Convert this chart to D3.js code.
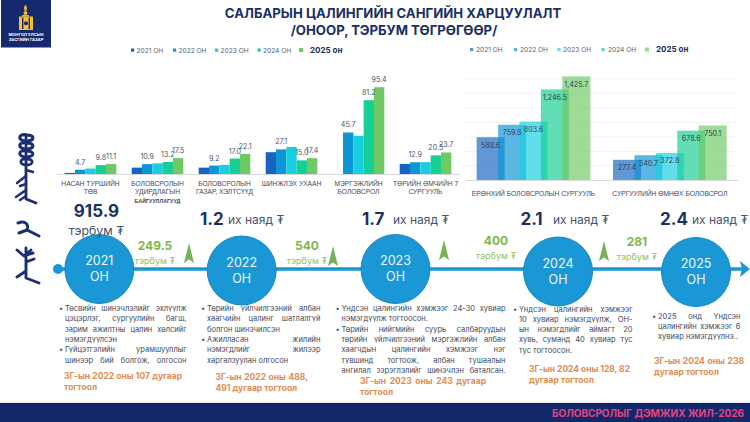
<!DOCTYPE html>
<html>
<head>
<meta charset="utf-8">
<script src="https://cdn.jsdelivr.net/npm/d3@7"></script>
<style>
  html, body { margin: 0; padding: 0; background: #fff; overflow: hidden; }
  svg { display: block; font-family: Inter, "Noto Sans", "DejaVu Sans", sans-serif; }
</style>
</head>
<body>
<script>
// Data
const years = ['2021', '2022', '2023', '2024', '2025'];
const smallCategories = ['НАСАН ТУРШИЙН\nТӨВ', 'БОЛОВСРОЛЫН\nУДИРДЛАГЫН\nБАЙГУУЛЛАГУУД', 'БОЛОВСРОЛЫН\nГАЗАР, ХЭЛТСҮҮД', 'ШИНЖЛЭХ УХААН', 'МЭРГЭЖЛИЙН\nБОЛОВСРОЛ', 'ТӨРИЙН ӨМЧИЙН 7\nСУРГУУЛЬ'];
const small2021 = [1.2, 7.0, 7.0, 24.0, 0, 11.0];
const small2022 = [4.7, 10.9, 9.2, 27.1, 45.7, 12.9];
const small2023 = [6.0, 11.7, 10.0, 29.8, 42.0, 13.0];
const small2024 = [9.8, 13.2, 17.0, 15.0, 81.2, 20.5];
const small2025 = [11.1, 17.5, 22.1, 17.4, 95.4, 23.7];
const smallSeries = [small2021, small2022, small2023, small2024, small2025];
const smallLabelled = ['2022', '2024', '2025'];

const bigCategories = ['ЕРӨНХИЙ БОЛОВСРОЛЫН СУРГУУЛЬ', 'СУРГУУЛИЙН ӨМНӨХ БОЛОВСРОЛ'];
const big2021 = [588.6, 277.4];
const big2022 = [759.8, 340.7];
const big2023 = [803.6, 372.8];
const big2024 = [1246.5, 678.6];
const big2025 = [1425.7, 750.1];
const bigSeries = [big2021, big2022, big2023, big2024, big2025];

const timelineYears = ['2021', '2022', '2023', '2024', '2025'];
const totalsValue = ['915.9', '1.2', '1.7', '2.1', '2.4'];
const totalsUnit = ['тэрбум ₮', 'их наяд ₮', 'их наяд ₮', 'их наяд ₮', 'их наяд ₮'];
const increases = ['249.5', '540', '400', '281'];

const notes2021 = [['• ', 'Төсвийн шинэчлэлийг эхлүүлж'], ['', 'цэцэрлэг, сургуулийн багш,'], ['', 'зарим ажилтны цалин хөлсийг'], ['', 'нэмэгдүүлсэн', 1], ['• ', 'Гүйцэтгэлийн урамшууллыг'], ['', 'шинээр бий болгож, олгосон']];
const notes2022 = [['• ', 'Төрийн үйлчилгээний албан'], ['', 'хаагчийн цалинг шатлалгүй'], ['', 'болгон шинэчилсэн', 1], ['• ', 'Ажилласан жилийн'], ['', 'нэмэгдлийг жилээр'], ['', 'харгалзуулан олгосон', 1]];
const notes2023 = [['• ', 'Үндсэн цалингийн хэмжээг 24-30 хувиар'], ['', 'нэмэгдүүлж тогтоосон.', 1], ['• ', 'Төрийн нийгмийн суурь салбаруудын'], ['', 'төрийн үйлчилгээний мэргэжлийн албан'], ['', 'хаагчдын цалингийн хэмжээг нэг'], ['', 'түвшинд тогтоож, албан тушаалын'], ['', 'ангилал зэрэглэлийг шинэчлэн баталсан.']];
const notes2024 = [['• ', 'Үндсэн цалингийн хэмжээг'], ['', '10 хувиар нэмэгдүүлж, ОН-'], ['', 'ын нэмэгдлийг аймагт 20'], ['', 'хувь, суманд 40 хувиар тус'], ['', 'тус тогтоосон.', 1]];
const notes2025 = [['• ', '2025 онд Үндсэн'], ['', 'цалингийн хэмжээг 6'], ['', 'хувиар нэмэгдүүлнэ..', 1]];
const decrees2021 = ['3Г-ын 2022 оны 107 дугаар', 'тогтоол'];
const decrees2022 = ['3Г-ын 2022 оны 488,', '491 дугаар тогтоол'];
const decrees2023 = ['3Г-ын 2023 оны 243 дугаар', 'тогтоол'];
const decrees2024 = ['3Г-ын 2024 оны 128, 82', 'дугаар тогтоол'];
const decrees2025 = ['3Г-ын 2024 оны 238', 'дугаар тогтоол'];

// Colours
const navy = '#1b2f63';
const textGrey = '#3d4b5c';
const green = '#7cb84a';
const orange = '#e08c4e';
const lineBlue = '#1a97d5';
const color = d3.scaleOrdinal(years, ['#1565c0', '#0d96d6', '#17cfe0', '#16cf94', '#6fca66']);

const svg = d3.select('body').append('svg').attr('width', 750).attr('height', 422);

// Title
svg.append('text').attr('x', 393).attr('y', 18).attr('text-anchor', 'middle')
  .style('font-size', '13.2px').style('font-weight', 700).style('fill', navy)
  .text('САЛБАРЫН ЦАЛИНГИЙН САНГИЙН ХАРЦУУЛАЛТ');
svg.append('text').attr('x', 394).attr('y', 35).attr('text-anchor', 'middle')
  .style('font-size', '13.2px').style('font-weight', 700).style('fill', navy)
  .text('/ОНООР, ТЭРБУМ ТӨГРӨГӨӨР/');

// Logo block
const logo = svg.append('g');
logo.append('rect').attr('x', 1).attr('width', 50).attr('height', 47.5).attr('fill', '#14296e');
logo.append('path').attr('d', 'M25.5,4.5 C28,8 27,10 25.5,11.5 C24,10 23,8 25.5,4.5Z').attr('fill', '#f0b323');
logo.append('circle').attr('cx', 25.5).attr('cy', 13).attr('r', 2).attr('fill', '#f0b323');
logo.append('rect').attr('x', 22).attr('y', 15).attr('width', 7).attr('height', 1.6).attr('fill', '#f0b323');
logo.append('rect').attr('x', 19).attr('y', 16.5).attr('width', 14).attr('height', 13.5).attr('fill', '#f5c22e');
logo.append('rect').attr('x', 22).attr('y', 17.5).attr('width', 1.4).attr('height', 11.5).attr('fill', '#14296e');
logo.append('rect').attr('x', 28.6).attr('y', 17.5).attr('width', 1.4).attr('height', 11.5).attr('fill', '#14296e');
logo.append('circle').attr('cx', 26).attr('cy', 23.2).attr('r', 2).attr('fill', '#14296e');
['МОНГОЛ УЛСЫН', 'ЗАСГИЙН ГАЗАР'].forEach((t, i) => {
  logo.append('text').attr('x', 26).attr('y', 35.5 + i * 5.2).attr('text-anchor', 'middle')
    .style('font-size', '4.1px').style('font-weight', 700).style('fill', '#fff').text(t);
});

// Legends
function drawLegend(squareX, textX, big, y) {
  years.forEach((yr, i) => {
    const last = i === years.length - 1;
    svg.append('rect').attr('x', squareX[i] - (last ? 2 : 1.5)).attr('y', y - (last ? 2 : 1.5))
      .attr('width', last ? 4 : 3.2).attr('height', last ? 4 : 3.2)
      .attr('fill', color(yr)).attr('opacity', big ? 0.7 : 1);
    svg.append('text').attr('x', textX[i]).attr('y', y + 2.5)
      .style('font-size', last ? '8px' : '6.6px')
      .style('font-weight', last ? 700 : 400)
      .style('fill', last ? navy : '#56626f')
      .text(last ? yr + ' он' : yr + ' ОН');
  });
}
drawLegend([132.5, 174.5, 216.5, 259, 301], [136.5, 178.5, 220.5, 263, 310], false, 50);
drawLegend([471.5, 515.5, 559, 603, 647], [476, 520, 563, 608, 656], true, 49.5);

// Left chart: small budget lines
const smallBase = 174;
const smallX0 = d3.scaleBand().domain(smallCategories).range([57, 459]).paddingInner(0.23).paddingOuter(0.115);
const smallX1 = d3.scaleBand().domain(years).range([0, smallX0.bandwidth()]);
const smallY = d3.scaleLinear().domain([0, 100]).range([smallBase, smallBase - 90.9]);

function wrapTicks(sel, lineGap) {
  sel.selectAll('.tick text').attr('dy', 0).each(function (d) {
    const t = d3.select(this);
    const parts = String(d).split('\n');
    t.text(null);
    parts.forEach((p, i) => {
      t.append('tspan').attr('x', 0).attr('y', 12 + i * lineGap)
        .style('font-size', i === 2 ? '5.4px' : null)
        .style('font-weight', i === 2 ? 700 : null)
        .text(p);
    });
  });
}

const smallAxis = svg.append('g').attr('transform', 'translate(0,' + smallBase + ')')
  .call(d3.axisBottom(smallX0).tickSize(0));
smallAxis.select('.domain').attr('stroke', '#d5d8db');
smallAxis.selectAll('text').style('font-size', '6.7px').style('fill', textGrey).style('font-family', 'inherit');
wrapTicks(smallAxis, 8.3);

years.forEach((yr, s) => {
  svg.append('g').selectAll('rect').data(smallSeries[s]).enter().append('rect')
    .attr('x', (d, i) => smallX0(smallCategories[i]) + smallX1(yr))
    .attr('y', d => smallY(d))
    .attr('width', smallX1.bandwidth())
    .attr('height', d => smallBase - smallY(d))
    .attr('fill', color(yr));
});
smallLabelled.forEach(yr => {
  const s = years.indexOf(yr);
  svg.append('g').selectAll('text').data(smallSeries[s]).enter().append('text')
    .attr('x', (d, i) => smallX0(smallCategories[i]) + smallX1(yr) + smallX1.bandwidth() / 2)
    .attr('y', d => smallY(d) - 5)
    .attr('text-anchor', 'middle')
    .style('font-size', '7.1px').style('fill', '#4a5663')
    .text(d => d.toFixed(1));
});

// Right chart: large budget lines, overlapping bars
const bigBase = 180;
const bigBarW = 28;
const bigX0 = d3.scaleBand().domain(bigCategories).range([465.3, 738]).paddingInner(0.1666).paddingOuter(0.0833);
const bigX1 = d3.scalePoint().domain(years).range([0, bigX0.bandwidth() - bigBarW]);
const bigY = d3.scaleLinear().domain([0, 1600]).range([bigBase, bigBase - 116.3]);

svg.append('g').attr('transform', 'translate(465,0)')
  .call(d3.axisLeft(bigY).tickValues(d3.range(200, 1600, 200)).tickSize(-273).tickFormat(''))
  .call(g => g.select('.domain').remove())
  .call(g => g.selectAll('line').attr('stroke', '#f2f3f4'));

const bigAxis = svg.append('g').attr('transform', 'translate(0,' + bigBase + ')')
  .call(d3.axisBottom(bigX0).tickSize(0));
bigAxis.select('.domain').attr('stroke', '#d5d8db').attr('stroke-width', 1.2);
bigAxis.selectAll('text').attr('y', 11.5).style('font-size', '6.7px').style('fill', textGrey).style('font-family', 'inherit');

years.forEach((yr, s) => {
  svg.append('g').selectAll('rect').data(bigSeries[s]).enter().append('rect')
    .attr('x', (d, i) => bigX0(bigCategories[i]) + bigX1(yr))
    .attr('y', d => bigY(d))
    .attr('width', bigBarW)
    .attr('height', d => bigBase - bigY(d))
    .attr('fill', color(yr))
    .attr('fill-opacity', 0.68);
});
years.forEach((yr, s) => {
  svg.append('g').selectAll('text').data(bigSeries[s]).enter().append('text')
    .attr('x', (d, i) => bigX0(bigCategories[i]) + bigX1(yr) + bigBarW / 2)
    .attr('y', d => bigY(d) + 10.5)
    .attr('text-anchor', 'middle')
    .style('font-size', '7.1px').style('fill', '#33414f')
    .text(d => d3.format(',.1f')(d));
});

// Timeline
const timelineX = d3.scaleOrdinal(timelineYears, [99.3, 241.7, 395.5, 558, 696]);
const timelineY = d3.scaleOrdinal(timelineYears, [269, 270.5, 269, 271.5, 272]);
const lineY = 269;
svg.append('line').attr('x1', 58).attr('x2', 742).attr('y1', lineY).attr('y2', lineY)
  .attr('stroke', lineBlue).attr('stroke-width', 3.4);
svg.append('circle').attr('cx', 58).attr('cy', lineY).attr('r', 5).attr('fill', lineBlue);
svg.append('path').attr('d', 'M740,261 L750,269 L740,277 L742,269Z').attr('fill', lineBlue);

const nodes = svg.append('g').selectAll('g').data(timelineYears).enter().append('g')
  .attr('transform', d => 'translate(' + timelineX(d) + ',' + timelineY(d) + ')');
nodes.append('circle').attr('r', 34.5).attr('fill', lineBlue).attr('stroke', '#1587c4');
nodes.append('text').attr('y', -4).attr('text-anchor', 'middle')
  .style('font-size', '12.5px').style('fill', '#eef8fd').text(d => d);
nodes.append('text').attr('y', 12).attr('text-anchor', 'middle')
  .style('font-size', '12.5px').style('fill', '#eef8fd').text('ОН');

// Yearly totals above the circles
svg.append('text').attr('x', 96.5).attr('y', 217).attr('text-anchor', 'middle')
  .style('font-size', '17px').style('font-weight', 700).style('fill', navy).text(totalsValue[0]);
svg.append('text').attr('x', 96.5).attr('y', 235).attr('text-anchor', 'middle')
  .style('font-size', '12.3px').style('fill', '#44546a').text(totalsUnit[0]);
const totalValueX = [0, 200, 362, 520.5, 660];
const totalUnitX = [0, 228, 393, 553, 692];
totalsValue.forEach((v, i) => {
  if (i === 0) return;
  svg.append('text').attr('x', totalValueX[i]).attr('y', 225)
    .style('font-size', '17px').style('font-weight', 700).style('fill', navy).text(v);
  svg.append('text').attr('x', totalUnitX[i]).attr('y', 224)
    .style('font-size', '12px').style('fill', '#44546a').text(totalsUnit[i]);
});

// Increases between the years
const incX = [155, 307, 496, 637];
const incY = [249.5, 249.5, 244.5, 245.5];
const arrowX = [189, 333, 444, 604];
const arrowTop = [243, 246, 240, 241];
increases.forEach((v, i) => {
  svg.append('text').attr('x', incX[i]).attr('y', incY[i]).attr('text-anchor', 'middle')
    .style('font-size', '12px').style('font-weight', 700).style('fill', green).text(v);
  svg.append('text').attr('x', incX[i]).attr('y', incY[i] + 14).attr('text-anchor', 'middle')
    .style('font-size', '9px').style('fill', '#8fc266').text('тэрбум ₮');
  svg.append('path')
    .attr('d', 'M0,0 L5,20 L0,16.5 L-5,20Z')
    .attr('transform', 'translate(' + arrowX[i] + ',' + arrowTop[i] + ')')
    .attr('fill', '#75b35a');
});

// Note blocks: justified lines unless flagged
function justify(t, width) {
  const spaces = t.text().split(' ').length - 1;
  const extra = (width - t.node().getComputedTextLength()) / Math.max(spaces, 1);
  t.style('word-spacing', extra + 'px');
}
function drawNotes(lines, x0, x1, y0, gap) {
  lines.forEach((ln, i) => {
    const y = y0 + i * gap;
    if (ln[0]) {
      svg.append('text').attr('x', x0 - 6).attr('y', y).style('font-size', '7.5px').style('fill', textGrey).text('•');
    }
    const t = svg.append('text').attr('x', x0).attr('y', y)
      .style('font-size', '7.5px').style('fill', textGrey).text(ln[1]);
    if (!ln[2]) justify(t, x1 - x0);
  });
}
function drawDecree(lines, x0, x1, y0) {
  lines.forEach((ln, i) => {
    const t = svg.append('text').attr('x', x0).attr('y', y0 + i * 11.4)
      .style('font-size', '8.5px').style('font-weight', 700).style('fill', orange).text(ln);
    if (i === 0) justify(t, x1 - x0);
  });
}
drawNotes(notes2021, 65, 186.5, 311, 10.3);
drawNotes(notes2022, 207, 320.5, 311, 10.3);
drawNotes(notes2023, 341.5, 505.5, 311, 10.3);
drawNotes(notes2024, 519, 632.5, 311.5, 10.3);
drawNotes(notes2025, 658, 740.5, 318.5, 10.4);
drawDecree(decrees2021, 64, 182, 378.5);
drawDecree(decrees2022, 215.5, 308, 380);
drawDecree(decrees2023, 360, 486, 384);
drawDecree(decrees2024, 529, 630, 371.5);
drawDecree(decrees2025, 654, 744, 364);

// Footer
svg.append('rect').attr('y', 402.5).attr('width', 750).attr('height', 0.8).attr('fill', '#c9ccd2');
svg.append('rect').attr('y', 403).attr('width', 750).attr('height', 19).attr('fill', '#13286b');
svg.append('text').attr('x', 744).attr('y', 417).attr('text-anchor', 'end')
  .style('font-size', '10px').style('font-weight', 700).style('fill', '#e5447f')
  .text('БОЛОВСРОЛЫГ ДЭМЖИХ ЖИЛ-2026');

// Vertical script ornament at the left (no Mongolian font is available)
const script = svg.append('g').attr('fill', 'none').attr('stroke', '#1c2f74')
  .attr('stroke-linecap', 'round').attr('stroke-linejoin', 'round');
[
  ['M27,135 C18,133 17,141 26,141 C35,141 35,135 27,135', 3.2],
  ['M27,143 C18,141 17,149 26,149 C35,149 35,143 27,143', 3.2],
  ['M27,151 C18,149 17,157 26,157 C35,157 35,151 27,151', 3],
  ['M27,159 C19,158 19,165 26,165 C34,165 34,159 27,159', 2.8],
  ['M26,135 L26,199 L36,203', 2.8],
  ['M26,170 L33,172 M26,176 L17,183 M26,184 L20,186 M26,190 L16,197 M26,196 L20,200', 2.4],
  ['M18,223 C26,220 29,225 27,230 L39,236 M27,230 L19,233', 3],
  ['M17,250 L24,256 L31,250 M26,248 L26,278 L39,283 M26,262 L34,259 M26,271 L17,277 M26,255 L33,253', 2.9]
].forEach(p => {
  script.append('path').attr('d', p[0]).attr('stroke-width', p[1]);
});
</script>
</body>
</html>
